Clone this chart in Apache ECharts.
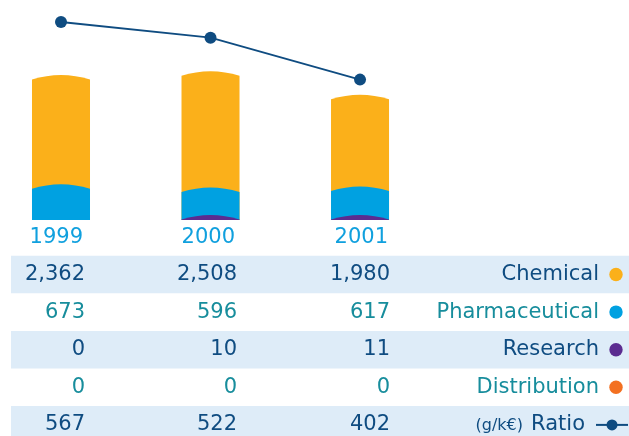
<!DOCTYPE html>
<html>
<head>
<meta charset="utf-8">
<script src="https://cdn.jsdelivr.net/npm/echarts@6/dist/echarts.min.js"></script>
<style>
body { margin: 0; background: #fff; }
#chart { width: 629px; height: 436px; }
</style>
</head>
<body>
<div id="chart"></div>
<script>
const years = ['1999', '2000', '2001']
const chemical = [2362, 2508, 1980]
const pharmaceutical = [673, 596, 617]
const research = [0, 10, 11]
const distribution = [0, 0, 0]
const ratio = [567, 522, 402]

const NAVY = '#0f4c81'
const TEAL = '#178d9c'
const FONT = '"DejaVu Sans", sans-serif'

// stack from the bottom up
const layers = [
  { name: 'Research', data: research, color: '#5b2c90' },
  { name: 'Distribution', data: distribution, color: '#f37021' },
  { name: 'Pharmaceutical', data: pharmaceutical, color: '#00a1e1' },
  { name: 'Chemical', data: chemical, color: '#fbb01a' }
]

function cumulative(upto) {
  return years.map((y, i) => {
    let s = 0
    for (let k = 0; k <= upto; k++) s += layers[k].data[i]
    return s
  })
}

function renderArcBar(params, api) {
  if (!api.value(2)) return
  const top = api.coord([api.value(0), api.value(1)])
  const base = api.coord([api.value(0), 0])
  const w = api.size([1, 0])[0] * 0.388
  const l = top[0] - w / 2, r = top[0] + w / 2
  const b = 4.5
  return {
    type: 'path',
    shape: {
      pathData: 'M' + l + ',' + base[1] + 'L' + l + ',' + top[1] +
        'Q' + top[0] + ',' + (top[1] - 2 * b) + ' ' + r + ',' + top[1] +
        'L' + r + ',' + base[1] + 'Z'
    },
    style: { fill: api.visual('color') }
  }
}

// every layer is drawn from zero; the lower layers sit in front
const barSeries = layers.map((layer, k) => {
  const tops = cumulative(k)
  return {
    name: layer.name,
    type: 'custom',
    renderItem: renderArcBar,
    itemStyle: { color: layer.color },
    encode: { x: 0, y: 1 },
    z: 8 - k,
    data: years.map((y, i) => [i, tops[i], layer.data[i]])
  }
})

// table below the bars
const colRight = [85, 237, 390]
const rowTop = 255.7
const rowH = 37.6
const rows = [
  { label: 'Chemical', data: chemical, color: NAVY, mark: '#fbb01a' },
  { label: 'Pharmaceutical', data: pharmaceutical, color: TEAL, mark: '#00a1e1' },
  { label: 'Research', data: research, color: NAVY, mark: '#5b2c90' },
  { label: 'Distribution', data: distribution, color: TEAL, mark: '#f37021' },
  { label: 'Ratio', data: ratio, color: NAVY, mark: null }
]

const graphic = []
rows.forEach((row, r) => {
  const cy = rowTop + rowH * r + rowH / 2
  if (r % 2 === 0) {
    graphic.push({
      type: 'rect', z: 0,
      shape: { x: 11, y: rowTop + rowH * r, width: 620, height: rowH },
      style: { fill: '#deecf8' }
    })
  }
  row.data.forEach((v, i) => {
    graphic.push({
      type: 'text', z: 5, x: colRight[i], y: cy,
      style: { text: v.toLocaleString('en-US'), fill: row.color, font: '21px ' + FONT, align: 'right', verticalAlign: 'middle' }
    })
  })
  if (row.mark) {
    graphic.push({
      type: 'text', z: 5, x: 599, y: cy,
      style: { text: row.label, fill: row.color, font: '21px ' + FONT, align: 'right', verticalAlign: 'middle' }
    })
    graphic.push({
      type: 'circle', z: 5, shape: { cx: 616, cy: cy, r: 6.7 }, style: { fill: row.mark }
    })
  } else {
    graphic.push({
      type: 'text', z: 5, x: 585, y: cy,
      style: { text: row.label, fill: row.color, font: '21px ' + FONT, align: 'right', verticalAlign: 'middle' }
    })
    graphic.push({
      type: 'text', z: 5, x: 523, y: cy + 1,
      style: { text: '(g/k€)', fill: row.color, font: '16px ' + FONT, align: 'right', verticalAlign: 'middle' }
    })
    graphic.push({
      type: 'line', z: 5, shape: { x1: 596, y1: cy, x2: 628, y2: cy }, style: { stroke: NAVY, lineWidth: 2 }
    })
    graphic.push({
      type: 'circle', z: 6, shape: { cx: 612, cy: cy, r: 5.5 }, style: { fill: NAVY }
    })
  }
})
years.forEach((y, i) => {
  graphic.push({
    type: 'text', z: 5, x: colRight[i] - 2, y: 238,
    style: { text: y, fill: '#10a0de', font: '21px ' + FONT, align: 'right', verticalAlign: 'middle' }
  })
})

const chart = echarts.init(document.getElementById('chart'))
chart.setOption({
  animation: false,
  grid: { left: 0, right: 0, top: 0, bottom: 216 },
  // year index as a value axis so the columns sit where the table expects them
  xAxis: { type: 'value', min: -0.408, max: 3.799, show: false },
  yAxis: [
    { type: 'value', min: 0, max: 4750, show: false },
    { type: 'value', min: 0, max: 630, show: false }
  ],
  series: barSeries.concat([{
    name: 'Ratio',
    type: 'line',
    yAxisIndex: 1,
    data: ratio.map((v, i) => [i, v]),
    z: 10,
    symbol: 'circle',
    symbolSize: 12,
    itemStyle: { color: NAVY },
    lineStyle: { color: NAVY, width: 1.8 }
  }]),
  graphic: graphic
})
</script>
</body>
</html>
